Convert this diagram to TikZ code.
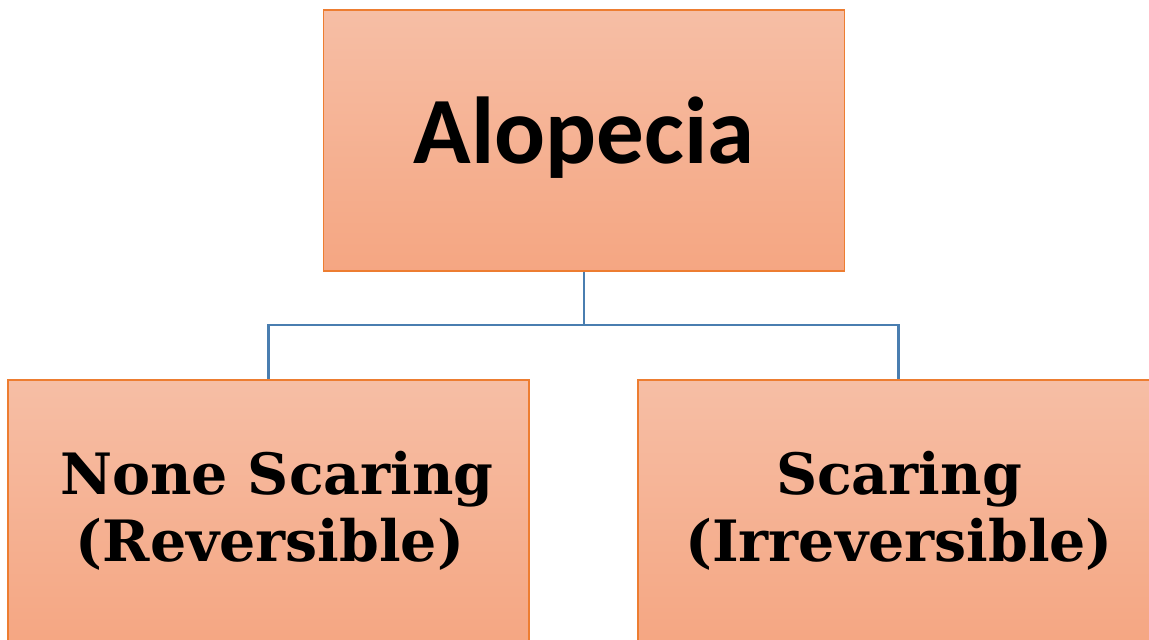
\documentclass[tikz,border=0pt]{standalone}
\usepackage{fontspec}
\newfontfamily\topfont{Carlito}
\newfontfamily\subfont{DejaVu Serif}
\tikzset{
  box/.style={draw=boxborder, line width=1.2pt, top color=boxtop, bottom color=boxbottom, shading angle=0, minimum width=521pt, inner sep=0pt},
  link/.style={draw=linkblue, line width=2.8pt},
  toptext/.style={font=\topfont\bfseries\fontsize{95}{105}\selectfont, inner sep=0pt},
  subtext/.style={font=\subfont\bfseries\fontsize{57}{67}\selectfont, align=center, inner sep=0pt}
}
\definecolor{boxborder}{HTML}{ED7D31}
\definecolor{boxtop}{HTML}{F6BEA5}
\definecolor{boxbottom}{HTML}{F5A682}
\definecolor{linkblue}{HTML}{4A7EB0}
\begin{document}
\begin{tikzpicture}[x=1pt,y=-1pt]
\clip (0,0) rectangle (1149,640);
\fill[white] (0,0) rectangle (1149,640);
\node[box, minimum height=261pt] (top) at (584,140.5) {};
\node[box, minimum height=266pt] (left) at (268.5,513) {};
\node[box, minimum height=266pt] (right) at (898.5,513) {};
\node[toptext] (toplabel) at (584,138) {Alopecia};
\node[subtext] (leftlabel) at (270,511) {\hspace*{14pt}None Scaring\\(Reversible)};
\node[subtext] (rightlabel) at (899,511) {Scaring\\(Irreversible)};
\coordinate (mid) at (584,325);
\draw[link] (top.south) -- (mid) -| (left.north);
\draw[link] (mid) -| (right.north);
\end{tikzpicture}
\end{document}
